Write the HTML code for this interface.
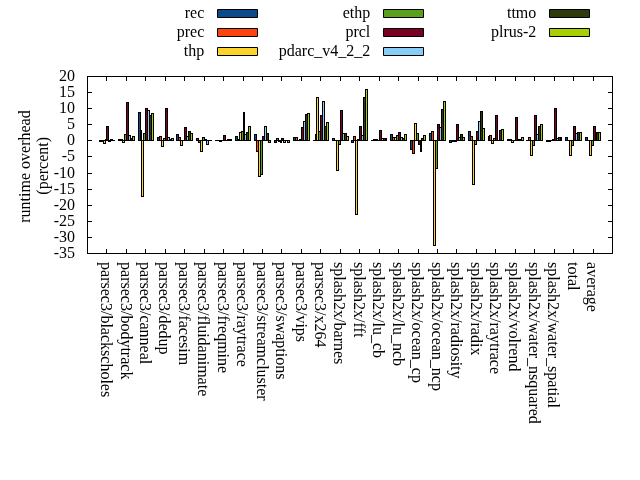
<!DOCTYPE html><html><head><meta charset="utf-8"><style>html,body{margin:0;padding:0;background:#fff;overflow:hidden}svg{display:block;will-change:transform}rect{shape-rendering:crispEdges}text{font-family:'Liberation Serif',serif;font-size:16px;fill:#000}</style></head><body>
<svg width="640" height="480" viewBox="0 0 640 480">
<rect x="99" y="140" width="3" height="2"/>
<rect x="101" y="140" width="3" height="2"/>
<rect x="103" y="140" width="3" height="4"/>
<rect x="104" y="141" width="1" height="2" fill="#fdd32a"/>
<rect x="105" y="139" width="2" height="2"/>
<rect x="106" y="126" width="3" height="15"/>
<rect x="107" y="127" width="1" height="13" fill="#7a0024"/>
<rect x="108" y="140" width="3" height="2"/>
<rect x="110" y="139" width="3" height="2"/>
<rect x="112" y="140" width="3" height="1"/>
<rect x="118" y="139" width="3" height="2"/>
<rect x="120" y="139" width="3" height="2"/>
<rect x="122" y="140" width="3" height="3"/>
<rect x="123" y="141" width="1" height="1" fill="#fdd32a"/>
<rect x="124" y="134" width="3" height="7"/>
<rect x="125" y="135" width="1" height="5" fill="#5aa01c"/>
<rect x="126" y="102" width="3" height="39"/>
<rect x="127" y="103" width="1" height="37" fill="#7a0024"/>
<rect x="128" y="135" width="3" height="6"/>
<rect x="129" y="136" width="1" height="4" fill="#88ccf8"/>
<rect x="130" y="138" width="3" height="3"/>
<rect x="131" y="139" width="1" height="1" fill="#2c3a0c"/>
<rect x="132" y="136" width="3" height="5"/>
<rect x="133" y="137" width="1" height="3" fill="#a8d000"/>
<rect x="138" y="112" width="3" height="29"/>
<rect x="139" y="113" width="1" height="27" fill="#0b4a8c"/>
<rect x="140" y="130" width="2" height="11"/>
<rect x="141" y="140" width="3" height="57"/>
<rect x="142" y="141" width="1" height="55" fill="#fdd32a"/>
<rect x="143" y="133" width="3" height="8"/>
<rect x="144" y="134" width="1" height="6" fill="#5aa01c"/>
<rect x="145" y="108" width="3" height="33"/>
<rect x="146" y="109" width="1" height="31" fill="#7a0024"/>
<rect x="147" y="110" width="3" height="31"/>
<rect x="148" y="111" width="1" height="29" fill="#88ccf8"/>
<rect x="149" y="115" width="3" height="26"/>
<rect x="150" y="116" width="1" height="24" fill="#2c3a0c"/>
<rect x="151" y="113" width="3" height="28"/>
<rect x="152" y="114" width="1" height="26" fill="#a8d000"/>
<rect x="157" y="137" width="3" height="4"/>
<rect x="158" y="138" width="1" height="2" fill="#0b4a8c"/>
<rect x="159" y="136" width="3" height="5"/>
<rect x="160" y="137" width="1" height="3" fill="#fc4410"/>
<rect x="161" y="140" width="3" height="7"/>
<rect x="162" y="141" width="1" height="5" fill="#fdd32a"/>
<rect x="163" y="138" width="3" height="3"/>
<rect x="164" y="139" width="1" height="1" fill="#5aa01c"/>
<rect x="165" y="108" width="3" height="33"/>
<rect x="166" y="109" width="1" height="31" fill="#7a0024"/>
<rect x="167" y="137" width="3" height="4"/>
<rect x="168" y="138" width="1" height="2" fill="#88ccf8"/>
<rect x="169" y="139" width="3" height="2"/>
<rect x="171" y="138" width="3" height="3"/>
<rect x="172" y="139" width="1" height="1" fill="#a8d000"/>
<rect x="176" y="134" width="3" height="7"/>
<rect x="177" y="135" width="1" height="5" fill="#0b4a8c"/>
<rect x="178" y="137" width="3" height="4"/>
<rect x="179" y="138" width="1" height="2" fill="#fc4410"/>
<rect x="180" y="140" width="3" height="6"/>
<rect x="181" y="141" width="1" height="4" fill="#fdd32a"/>
<rect x="182" y="140" width="3" height="1"/>
<rect x="184" y="127" width="3" height="14"/>
<rect x="185" y="128" width="1" height="12" fill="#7a0024"/>
<rect x="186" y="136" width="3" height="5"/>
<rect x="187" y="137" width="1" height="3" fill="#88ccf8"/>
<rect x="188" y="131" width="3" height="10"/>
<rect x="189" y="132" width="1" height="8" fill="#2c3a0c"/>
<rect x="190" y="133" width="3" height="8"/>
<rect x="191" y="134" width="1" height="6" fill="#a8d000"/>
<rect x="196" y="138" width="3" height="3"/>
<rect x="197" y="139" width="1" height="1" fill="#0b4a8c"/>
<rect x="198" y="140" width="3" height="3"/>
<rect x="199" y="141" width="1" height="1" fill="#fc4410"/>
<rect x="200" y="140" width="3" height="12"/>
<rect x="201" y="141" width="1" height="10" fill="#fdd32a"/>
<rect x="202" y="137" width="3" height="4"/>
<rect x="203" y="138" width="1" height="2" fill="#5aa01c"/>
<rect x="204" y="139" width="3" height="2"/>
<rect x="206" y="140" width="3" height="5"/>
<rect x="207" y="141" width="1" height="3" fill="#88ccf8"/>
<rect x="208" y="140" width="3" height="1"/>
<rect x="210" y="140" width="2" height="1"/>
<rect x="215" y="140" width="3" height="1"/>
<rect x="217" y="140" width="3" height="1"/>
<rect x="219" y="140" width="3" height="2"/>
<rect x="221" y="140" width="3" height="1"/>
<rect x="223" y="135" width="3" height="6"/>
<rect x="224" y="136" width="1" height="4" fill="#7a0024"/>
<rect x="225" y="140" width="3" height="1"/>
<rect x="227" y="139" width="3" height="2"/>
<rect x="229" y="139" width="3" height="2"/>
<rect x="235" y="136" width="3" height="5"/>
<rect x="236" y="137" width="1" height="3" fill="#0b4a8c"/>
<rect x="237" y="139" width="3" height="2"/>
<rect x="239" y="132" width="3" height="9"/>
<rect x="240" y="133" width="1" height="7" fill="#fdd32a"/>
<rect x="241" y="131" width="3" height="10"/>
<rect x="242" y="132" width="1" height="8" fill="#5aa01c"/>
<rect x="243" y="112" width="2" height="29"/>
<rect x="244" y="134" width="3" height="7"/>
<rect x="245" y="135" width="1" height="5" fill="#88ccf8"/>
<rect x="246" y="132" width="3" height="9"/>
<rect x="247" y="133" width="1" height="7" fill="#2c3a0c"/>
<rect x="248" y="126" width="3" height="15"/>
<rect x="249" y="127" width="1" height="13" fill="#a8d000"/>
<rect x="254" y="134" width="3" height="7"/>
<rect x="255" y="135" width="1" height="5" fill="#0b4a8c"/>
<rect x="256" y="140" width="3" height="12"/>
<rect x="257" y="141" width="1" height="10" fill="#fc4410"/>
<rect x="258" y="140" width="3" height="37"/>
<rect x="259" y="141" width="1" height="35" fill="#fdd32a"/>
<rect x="260" y="140" width="3" height="35"/>
<rect x="261" y="141" width="1" height="33" fill="#5aa01c"/>
<rect x="262" y="136" width="3" height="5"/>
<rect x="263" y="137" width="1" height="3" fill="#7a0024"/>
<rect x="264" y="126" width="3" height="15"/>
<rect x="265" y="127" width="1" height="13" fill="#88ccf8"/>
<rect x="266" y="133" width="3" height="8"/>
<rect x="267" y="134" width="1" height="6" fill="#2c3a0c"/>
<rect x="268" y="140" width="3" height="3"/>
<rect x="269" y="141" width="1" height="1" fill="#a8d000"/>
<rect x="274" y="140" width="3" height="3"/>
<rect x="275" y="141" width="1" height="1" fill="#0b4a8c"/>
<rect x="276" y="138" width="3" height="3"/>
<rect x="277" y="139" width="1" height="1" fill="#fc4410"/>
<rect x="278" y="140" width="3" height="2"/>
<rect x="280" y="140" width="2" height="3"/>
<rect x="281" y="138" width="3" height="3"/>
<rect x="282" y="139" width="1" height="1" fill="#7a0024"/>
<rect x="283" y="140" width="3" height="3"/>
<rect x="284" y="141" width="1" height="1" fill="#88ccf8"/>
<rect x="285" y="140" width="3" height="1"/>
<rect x="287" y="140" width="3" height="3"/>
<rect x="288" y="141" width="1" height="1" fill="#a8d000"/>
<rect x="293" y="137" width="3" height="4"/>
<rect x="294" y="138" width="1" height="2" fill="#0b4a8c"/>
<rect x="295" y="137" width="3" height="4"/>
<rect x="296" y="138" width="1" height="2" fill="#fc4410"/>
<rect x="297" y="140" width="3" height="1"/>
<rect x="299" y="139" width="3" height="2"/>
<rect x="301" y="127" width="3" height="14"/>
<rect x="302" y="128" width="1" height="12" fill="#7a0024"/>
<rect x="303" y="121" width="3" height="20"/>
<rect x="304" y="122" width="1" height="18" fill="#88ccf8"/>
<rect x="305" y="114" width="3" height="27"/>
<rect x="306" y="115" width="1" height="25" fill="#2c3a0c"/>
<rect x="307" y="113" width="3" height="28"/>
<rect x="308" y="114" width="1" height="26" fill="#a8d000"/>
<rect x="313" y="140" width="3" height="1"/>
<rect x="315" y="134" width="2" height="7"/>
<rect x="316" y="97" width="3" height="44"/>
<rect x="317" y="98" width="1" height="42" fill="#fdd32a"/>
<rect x="318" y="131" width="3" height="10"/>
<rect x="319" y="132" width="1" height="8" fill="#5aa01c"/>
<rect x="320" y="115" width="3" height="26"/>
<rect x="321" y="116" width="1" height="24" fill="#7a0024"/>
<rect x="322" y="101" width="3" height="40"/>
<rect x="323" y="102" width="1" height="38" fill="#88ccf8"/>
<rect x="324" y="126" width="3" height="15"/>
<rect x="325" y="127" width="1" height="13" fill="#2c3a0c"/>
<rect x="326" y="122" width="3" height="19"/>
<rect x="327" y="123" width="1" height="17" fill="#a8d000"/>
<rect x="332" y="138" width="3" height="3"/>
<rect x="333" y="139" width="1" height="1" fill="#0b4a8c"/>
<rect x="334" y="140" width="3" height="1"/>
<rect x="336" y="140" width="3" height="31"/>
<rect x="337" y="141" width="1" height="29" fill="#fdd32a"/>
<rect x="338" y="140" width="3" height="5"/>
<rect x="339" y="141" width="1" height="3" fill="#5aa01c"/>
<rect x="340" y="110" width="3" height="31"/>
<rect x="341" y="111" width="1" height="29" fill="#7a0024"/>
<rect x="342" y="133" width="3" height="8"/>
<rect x="343" y="134" width="1" height="6" fill="#88ccf8"/>
<rect x="344" y="133" width="3" height="8"/>
<rect x="345" y="134" width="1" height="6" fill="#2c3a0c"/>
<rect x="346" y="136" width="3" height="5"/>
<rect x="347" y="137" width="1" height="3" fill="#a8d000"/>
<rect x="351" y="140" width="3" height="3"/>
<rect x="352" y="141" width="1" height="1" fill="#0b4a8c"/>
<rect x="353" y="136" width="3" height="5"/>
<rect x="354" y="137" width="1" height="3" fill="#fc4410"/>
<rect x="355" y="140" width="3" height="75"/>
<rect x="356" y="141" width="1" height="73" fill="#fdd32a"/>
<rect x="357" y="139" width="3" height="2"/>
<rect x="359" y="126" width="3" height="15"/>
<rect x="360" y="127" width="1" height="13" fill="#7a0024"/>
<rect x="361" y="135" width="3" height="6"/>
<rect x="362" y="136" width="1" height="4" fill="#88ccf8"/>
<rect x="363" y="97" width="3" height="44"/>
<rect x="364" y="98" width="1" height="42" fill="#2c3a0c"/>
<rect x="365" y="89" width="3" height="52"/>
<rect x="366" y="90" width="1" height="50" fill="#a8d000"/>
<rect x="371" y="140" width="3" height="1"/>
<rect x="373" y="139" width="3" height="2"/>
<rect x="375" y="139" width="3" height="2"/>
<rect x="377" y="140" width="3" height="1"/>
<rect x="379" y="130" width="3" height="11"/>
<rect x="380" y="131" width="1" height="9" fill="#7a0024"/>
<rect x="381" y="138" width="3" height="3"/>
<rect x="382" y="139" width="1" height="1" fill="#88ccf8"/>
<rect x="383" y="138" width="3" height="3"/>
<rect x="384" y="139" width="1" height="1" fill="#2c3a0c"/>
<rect x="385" y="138" width="2" height="3"/>
<rect x="390" y="134" width="3" height="7"/>
<rect x="391" y="135" width="1" height="5" fill="#0b4a8c"/>
<rect x="392" y="137" width="3" height="4"/>
<rect x="393" y="138" width="1" height="2" fill="#fc4410"/>
<rect x="394" y="137" width="3" height="4"/>
<rect x="395" y="138" width="1" height="2" fill="#fdd32a"/>
<rect x="396" y="135" width="3" height="6"/>
<rect x="397" y="136" width="1" height="4" fill="#5aa01c"/>
<rect x="398" y="132" width="3" height="9"/>
<rect x="399" y="133" width="1" height="7" fill="#7a0024"/>
<rect x="400" y="137" width="3" height="4"/>
<rect x="401" y="138" width="1" height="2" fill="#88ccf8"/>
<rect x="402" y="138" width="3" height="3"/>
<rect x="403" y="139" width="1" height="1" fill="#2c3a0c"/>
<rect x="404" y="134" width="3" height="7"/>
<rect x="405" y="135" width="1" height="5" fill="#a8d000"/>
<rect x="410" y="140" width="3" height="10"/>
<rect x="411" y="141" width="1" height="8" fill="#0b4a8c"/>
<rect x="412" y="140" width="3" height="14"/>
<rect x="413" y="141" width="1" height="12" fill="#fc4410"/>
<rect x="414" y="123" width="3" height="18"/>
<rect x="415" y="124" width="1" height="16" fill="#fdd32a"/>
<rect x="416" y="133" width="3" height="8"/>
<rect x="417" y="134" width="1" height="6" fill="#5aa01c"/>
<rect x="418" y="140" width="3" height="5"/>
<rect x="419" y="141" width="1" height="3" fill="#7a0024"/>
<rect x="420" y="140" width="2" height="12"/>
<rect x="421" y="138" width="3" height="3"/>
<rect x="422" y="139" width="1" height="1" fill="#2c3a0c"/>
<rect x="423" y="135" width="3" height="6"/>
<rect x="424" y="136" width="1" height="4" fill="#a8d000"/>
<rect x="429" y="133" width="3" height="8"/>
<rect x="430" y="134" width="1" height="6" fill="#0b4a8c"/>
<rect x="431" y="131" width="3" height="10"/>
<rect x="432" y="132" width="1" height="8" fill="#fc4410"/>
<rect x="433" y="140" width="3" height="106"/>
<rect x="434" y="141" width="1" height="104" fill="#fdd32a"/>
<rect x="435" y="140" width="3" height="29"/>
<rect x="436" y="141" width="1" height="27" fill="#5aa01c"/>
<rect x="437" y="124" width="3" height="17"/>
<rect x="438" y="125" width="1" height="15" fill="#7a0024"/>
<rect x="439" y="127" width="3" height="14"/>
<rect x="440" y="128" width="1" height="12" fill="#88ccf8"/>
<rect x="441" y="109" width="3" height="32"/>
<rect x="442" y="110" width="1" height="30" fill="#2c3a0c"/>
<rect x="443" y="101" width="3" height="40"/>
<rect x="444" y="102" width="1" height="38" fill="#a8d000"/>
<rect x="449" y="140" width="3" height="3"/>
<rect x="450" y="141" width="1" height="1" fill="#0b4a8c"/>
<rect x="451" y="140" width="3" height="2"/>
<rect x="453" y="140" width="3" height="2"/>
<rect x="455" y="140" width="2" height="2"/>
<rect x="456" y="124" width="3" height="17"/>
<rect x="457" y="125" width="1" height="15" fill="#7a0024"/>
<rect x="458" y="137" width="3" height="4"/>
<rect x="459" y="138" width="1" height="2" fill="#88ccf8"/>
<rect x="460" y="134" width="3" height="7"/>
<rect x="461" y="135" width="1" height="5" fill="#2c3a0c"/>
<rect x="462" y="137" width="3" height="4"/>
<rect x="463" y="138" width="1" height="2" fill="#a8d000"/>
<rect x="468" y="131" width="3" height="10"/>
<rect x="469" y="132" width="1" height="8" fill="#0b4a8c"/>
<rect x="470" y="136" width="3" height="5"/>
<rect x="471" y="137" width="1" height="3" fill="#fc4410"/>
<rect x="472" y="140" width="3" height="45"/>
<rect x="473" y="141" width="1" height="43" fill="#fdd32a"/>
<rect x="474" y="140" width="3" height="5"/>
<rect x="475" y="141" width="1" height="3" fill="#5aa01c"/>
<rect x="476" y="131" width="3" height="10"/>
<rect x="477" y="132" width="1" height="8" fill="#7a0024"/>
<rect x="478" y="121" width="3" height="20"/>
<rect x="479" y="122" width="1" height="18" fill="#88ccf8"/>
<rect x="480" y="111" width="3" height="30"/>
<rect x="481" y="112" width="1" height="28" fill="#2c3a0c"/>
<rect x="482" y="128" width="3" height="13"/>
<rect x="483" y="129" width="1" height="11" fill="#a8d000"/>
<rect x="488" y="136" width="2" height="5"/>
<rect x="489" y="135" width="3" height="6"/>
<rect x="490" y="136" width="1" height="4" fill="#fc4410"/>
<rect x="491" y="140" width="3" height="4"/>
<rect x="492" y="141" width="1" height="2" fill="#fdd32a"/>
<rect x="493" y="138" width="3" height="3"/>
<rect x="494" y="139" width="1" height="1" fill="#5aa01c"/>
<rect x="495" y="115" width="3" height="26"/>
<rect x="496" y="116" width="1" height="24" fill="#7a0024"/>
<rect x="497" y="140" width="3" height="1"/>
<rect x="499" y="130" width="3" height="11"/>
<rect x="500" y="131" width="1" height="9" fill="#2c3a0c"/>
<rect x="501" y="129" width="3" height="12"/>
<rect x="502" y="130" width="1" height="10" fill="#a8d000"/>
<rect x="507" y="139" width="3" height="2"/>
<rect x="509" y="139" width="3" height="2"/>
<rect x="511" y="140" width="3" height="3"/>
<rect x="512" y="141" width="1" height="1" fill="#fdd32a"/>
<rect x="513" y="140" width="3" height="1"/>
<rect x="515" y="117" width="3" height="24"/>
<rect x="516" y="118" width="1" height="22" fill="#7a0024"/>
<rect x="517" y="139" width="3" height="2"/>
<rect x="519" y="139" width="3" height="2"/>
<rect x="521" y="137" width="3" height="4"/>
<rect x="522" y="138" width="1" height="2" fill="#a8d000"/>
<rect x="526" y="140" width="3" height="1"/>
<rect x="528" y="137" width="3" height="4"/>
<rect x="529" y="138" width="1" height="2" fill="#fc4410"/>
<rect x="530" y="140" width="3" height="16"/>
<rect x="531" y="141" width="1" height="14" fill="#fdd32a"/>
<rect x="532" y="140" width="3" height="6"/>
<rect x="533" y="141" width="1" height="4" fill="#5aa01c"/>
<rect x="534" y="115" width="3" height="26"/>
<rect x="535" y="116" width="1" height="24" fill="#7a0024"/>
<rect x="536" y="134" width="3" height="7"/>
<rect x="537" y="135" width="1" height="5" fill="#88ccf8"/>
<rect x="538" y="126" width="3" height="15"/>
<rect x="539" y="127" width="1" height="13" fill="#2c3a0c"/>
<rect x="540" y="124" width="3" height="17"/>
<rect x="541" y="125" width="1" height="15" fill="#a8d000"/>
<rect x="546" y="140" width="3" height="2"/>
<rect x="548" y="140" width="3" height="2"/>
<rect x="550" y="140" width="3" height="1"/>
<rect x="552" y="139" width="3" height="2"/>
<rect x="554" y="108" width="3" height="33"/>
<rect x="555" y="109" width="1" height="31" fill="#7a0024"/>
<rect x="556" y="138" width="3" height="3"/>
<rect x="557" y="139" width="1" height="1" fill="#88ccf8"/>
<rect x="558" y="137" width="3" height="4"/>
<rect x="559" y="138" width="1" height="2" fill="#2c3a0c"/>
<rect x="560" y="137" width="2" height="4"/>
<rect x="565" y="137" width="3" height="4"/>
<rect x="566" y="138" width="1" height="2" fill="#0b4a8c"/>
<rect x="567" y="140" width="3" height="1"/>
<rect x="569" y="140" width="3" height="16"/>
<rect x="570" y="141" width="1" height="14" fill="#fdd32a"/>
<rect x="571" y="140" width="3" height="6"/>
<rect x="572" y="141" width="1" height="4" fill="#5aa01c"/>
<rect x="573" y="126" width="3" height="15"/>
<rect x="574" y="127" width="1" height="13" fill="#7a0024"/>
<rect x="575" y="133" width="3" height="8"/>
<rect x="576" y="134" width="1" height="6" fill="#88ccf8"/>
<rect x="577" y="132" width="3" height="9"/>
<rect x="578" y="133" width="1" height="7" fill="#2c3a0c"/>
<rect x="579" y="132" width="3" height="9"/>
<rect x="580" y="133" width="1" height="7" fill="#a8d000"/>
<rect x="585" y="137" width="3" height="4"/>
<rect x="586" y="138" width="1" height="2" fill="#0b4a8c"/>
<rect x="587" y="140" width="3" height="1"/>
<rect x="589" y="140" width="3" height="16"/>
<rect x="590" y="141" width="1" height="14" fill="#fdd32a"/>
<rect x="591" y="140" width="3" height="6"/>
<rect x="592" y="141" width="1" height="4" fill="#5aa01c"/>
<rect x="593" y="126" width="3" height="15"/>
<rect x="594" y="127" width="1" height="13" fill="#7a0024"/>
<rect x="595" y="132" width="2" height="9"/>
<rect x="596" y="132" width="3" height="9"/>
<rect x="597" y="133" width="1" height="7" fill="#2c3a0c"/>
<rect x="598" y="132" width="3" height="9"/>
<rect x="599" y="133" width="1" height="7" fill="#a8d000"/>
<path d="M87.5 76.5H612.5V253.5H87.5Z" fill="none" stroke="#000"/>
<text x="75.1" y="80.60" text-anchor="end">20</text>
<text x="75.1" y="96.60" text-anchor="end">15</text>
<text x="75.1" y="112.60" text-anchor="end">10</text>
<text x="75.1" y="128.60" text-anchor="end">5</text>
<text x="75.1" y="144.60" text-anchor="end">0</text>
<text x="75.1" y="160.60" text-anchor="end">-5</text>
<text x="75.1" y="177.60" text-anchor="end">-10</text>
<text x="75.1" y="193.60" text-anchor="end">-15</text>
<text x="75.1" y="209.60" text-anchor="end">-20</text>
<text x="75.1" y="225.60" text-anchor="end">-25</text>
<text x="75.1" y="241.60" text-anchor="end">-30</text>
<text x="75.1" y="257.60" text-anchor="end">-35</text>
<text transform="translate(101.15,262.1) rotate(90)">parsec3/blackscholes</text>
<text transform="translate(120.59,262.1) rotate(90)">parsec3/bodytrack</text>
<text transform="translate(140.04,262.1) rotate(90)">parsec3/canneal</text>
<text transform="translate(159.48,262.1) rotate(90)">parsec3/dedup</text>
<text transform="translate(178.93,262.1) rotate(90)">parsec3/facesim</text>
<text transform="translate(198.37,262.1) rotate(90)">parsec3/fluidanimate</text>
<text transform="translate(217.81,262.1) rotate(90)">parsec3/freqmine</text>
<text transform="translate(237.26,262.1) rotate(90)">parsec3/raytrace</text>
<text transform="translate(256.70,262.1) rotate(90)">parsec3/streamcluster</text>
<text transform="translate(276.15,262.1) rotate(90)">parsec3/swaptions</text>
<text transform="translate(295.59,262.1) rotate(90)">parsec3/vips</text>
<text transform="translate(315.03,262.1) rotate(90)">parsec3/x264</text>
<text transform="translate(334.48,262.1) rotate(90)">splash2x/barnes</text>
<text transform="translate(353.92,262.1) rotate(90)">splash2x/fft</text>
<text transform="translate(373.37,262.1) rotate(90)">splash2x/lu_cb</text>
<text transform="translate(392.81,262.1) rotate(90)">splash2x/lu_ncb</text>
<text transform="translate(412.25,262.1) rotate(90)">splash2x/ocean_cp</text>
<text transform="translate(431.70,262.1) rotate(90)">splash2x/ocean_ncp</text>
<text transform="translate(451.14,262.1) rotate(90)">splash2x/radiosity</text>
<text transform="translate(470.59,262.1) rotate(90)">splash2x/radix</text>
<text transform="translate(490.03,262.1) rotate(90)">splash2x/raytrace</text>
<text transform="translate(509.47,262.1) rotate(90)">splash2x/volrend</text>
<text transform="translate(528.92,262.1) rotate(90)">splash2x/water_nsquared</text>
<text transform="translate(548.36,262.1) rotate(90)">splash2x/water_spatial</text>
<text transform="translate(567.81,262.1) rotate(90)">total</text>
<text transform="translate(587.25,262.1) rotate(90)">average</text>
<path d="M87 76.5H92M608 76.5H613M87 92.5H92M608 92.5H613M87 108.5H92M608 108.5H613M87 124.5H92M608 124.5H613M87 140.5H92M608 140.5H613M87 156.5H92M608 156.5H613M87 173.5H92M608 173.5H613M87 189.5H92M608 189.5H613M87 205.5H92M608 205.5H613M87 221.5H92M608 221.5H613M87 237.5H92M608 237.5H613M87 253.5H92M608 253.5H613M106.5 76V81M106.5 249V254M126.5 76V81M126.5 249V254M145.5 76V81M145.5 249V254M165.5 76V81M165.5 249V254M184.5 76V81M184.5 249V254M204.5 76V81M204.5 249V254M223.5 76V81M223.5 249V254M243.5 76V81M243.5 249V254M262.5 76V81M262.5 249V254M281.5 76V81M281.5 249V254M301.5 76V81M301.5 249V254M320.5 76V81M320.5 249V254M340.5 76V81M340.5 249V254M359.5 76V81M359.5 249V254M379.5 76V81M379.5 249V254M398.5 76V81M398.5 249V254M418.5 76V81M418.5 249V254M437.5 76V81M437.5 249V254M456.5 76V81M456.5 249V254M476.5 76V81M476.5 249V254M495.5 76V81M495.5 249V254M515.5 76V81M515.5 249V254M534.5 76V81M534.5 249V254M554.5 76V81M554.5 249V254M573.5 76V81M573.5 249V254M593.5 76V81M593.5 249V254" stroke="#000" fill="none"/>
<text transform="translate(29.5,166.5) rotate(-90)" text-anchor="middle">runtime overhead</text>
<text transform="translate(47.8,165.8) rotate(-90)" text-anchor="middle">(percent)</text>
<text x="204.3" y="17.75" text-anchor="end">rec</text>
<path d="M217.5 9.5h40v8h-40Z" fill="#0b4a8c" stroke="#000"/>
<text x="204.3" y="36.75" text-anchor="end">prec</text>
<path d="M217.5 28.5h40v8h-40Z" fill="#fc4410" stroke="#000"/>
<text x="204.3" y="55.75" text-anchor="end">thp</text>
<path d="M217.5 47.5h40v8h-40Z" fill="#fdd32a" stroke="#000"/>
<text x="370.3" y="17.75" text-anchor="end">ethp</text>
<path d="M383.5 9.5h40v8h-40Z" fill="#5aa01c" stroke="#000"/>
<text x="370.3" y="36.75" text-anchor="end">prcl</text>
<path d="M383.5 28.5h40v8h-40Z" fill="#7a0024" stroke="#000"/>
<text x="370.3" y="55.75" text-anchor="end">pdarc_v4_2_2</text>
<path d="M383.5 47.5h40v8h-40Z" fill="#88ccf8" stroke="#000"/>
<text x="536.3" y="17.75" text-anchor="end">ttmo</text>
<path d="M549.5 9.5h40v8h-40Z" fill="#2c3a0c" stroke="#000"/>
<text x="536.3" y="36.75" text-anchor="end">plrus-2</text>
<path d="M549.5 28.5h40v8h-40Z" fill="#a8d000" stroke="#000"/>
</svg></body></html>
